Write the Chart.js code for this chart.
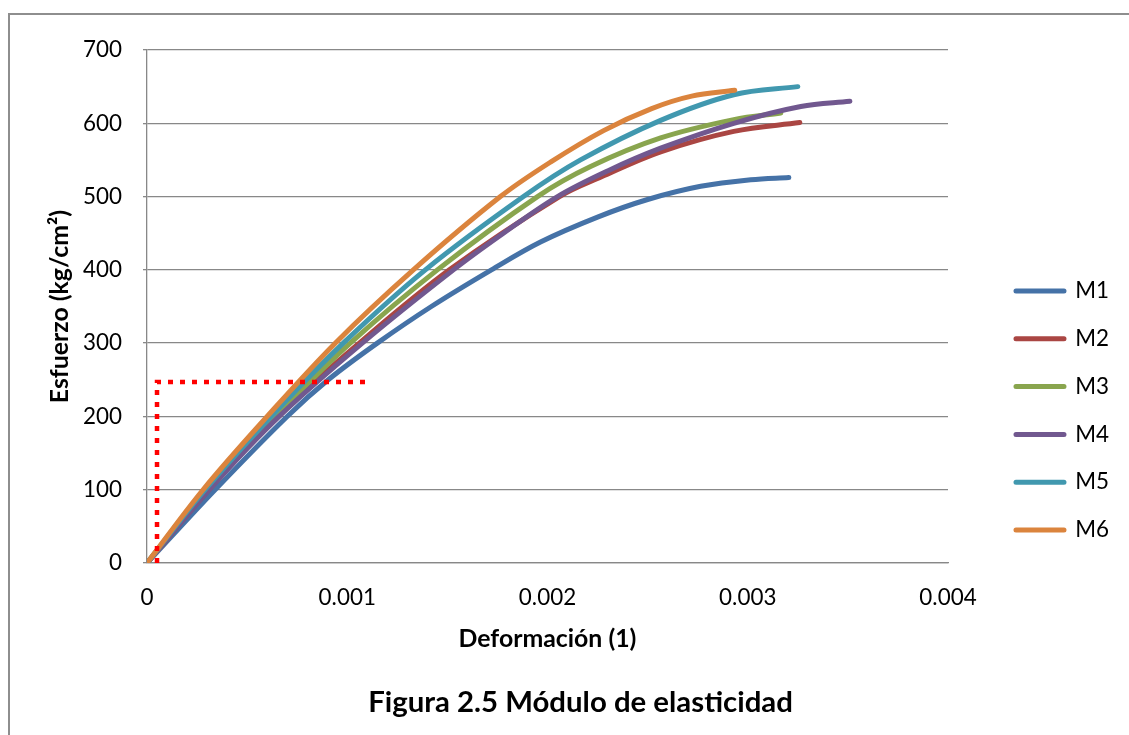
<!DOCTYPE html>
<html>
<head>
<meta charset="utf-8">
<script src="https://cdn.jsdelivr.net/npm/chart.js@4/dist/chart.umd.min.js"></script>
<style>
html,body{margin:0;padding:0;background:#fff;overflow:hidden}
#wrap{position:relative;width:1129px;height:735px;overflow:hidden}
#frame{position:absolute;left:8px;top:13px;width:1200px;height:800px;border-left:2px solid #8e8e8e;border-top:2px solid #8e8e8e}
#c{position:absolute;left:0;top:0}
</style>
</head>
<body>
<div id="wrap"><div id="frame"></div><canvas id="c" width="1129" height="735"></canvas></div>
<script>
// ---------------- data ----------------
const seriesNames = ['M1', 'M2', 'M3', 'M4', 'M5', 'M6'];

const strainM1 = [0, 0.00034, 0.0007, 0.000905, 0.00115, 0.00142, 0.00172, 0.001965, 0.00225, 0.0025, 0.002765, 0.003015, 0.003205];
const stressM1 = [0, 100, 200, 250, 300, 350, 400, 438, 472, 496, 514, 523, 526];

const strainM2 = [0, 0.00031, 0.00065, 0.00106, 0.00151, 0.00206, 0.00227, 0.002565, 0.00293, 0.00326];
const stressM2 = [0, 100, 200, 300, 400, 500, 527, 561, 589, 601];

const strainM3 = [0, 0.0003, 0.00064, 0.001015, 0.00145, 0.00195, 0.002215, 0.002565, 0.00293, 0.003165];
const stressM3 = [0, 100, 200, 300, 400, 500, 541, 580, 605, 614];

const strainM4 = [0, 0.00031, 0.00066, 0.001075, 0.00153, 0.00178, 0.00205, 0.0023, 0.002565, 0.00293, 0.003265, 0.00351];
const stressM4 = [0, 100, 200, 300, 400, 450, 500, 535, 566, 600, 623, 630];

const strainM5 = [0, 0.00029, 0.00062, 0.00098, 0.00139, 0.00188, 0.002165, 0.002565, 0.00293, 0.00325];
const stressM5 = [0, 100, 200, 300, 400, 500, 550, 604, 639, 650];

const strainM6 = [0, 0.00028, 0.0006, 0.00094, 0.00133, 0.001765, 0.002015, 0.00228, 0.00252, 0.00272, 0.002935];
const stressM6 = [0, 100, 200, 300, 400, 500, 547, 590, 620, 637, 645];

// red dotted guide (elastic limit)
const guideStrain = [0.00005, 0.00005, 0.0011];
const guideStress = [0, 247, 247];

const xTickLabels = ['0', '0.001', '0.002', '0.003', '0.004'];
const yTickLabels = ['0', '100', '200', '300', '400', '500', '600', '700'];

const xTitle = 'Deformación (1)';
const yTitle = 'Esfuerzo (kg/cm²)';
const chartTitle = 'Figura 2.5 Módulo de elasticidad';

// ---------------- styles ----------------
const colors = ['#4572A7', '#AA4643', '#89A54E', '#71588F', '#4198AF', '#DB843D'];
const FAMILY = 'Lato';

const canvas = document.getElementById('c');
const ctx = canvas.getContext('2d');
function fitSize(text, weight, target) {
  ctx.font = weight + ' 100px ' + FAMILY;
  const w = ctx.measureText(text).width;
  return w > 0 ? 100 * target / w : 22;
}
const tickSize = fitSize('700', 'normal', 39);
const axisTitleSize = fitSize(xTitle, 'bold', 178);
const titleSize = fitSize(chartTitle, 'bold', 425);

const PAD_LEFT = 42, PAD_RIGHT = 10, PAD_TOP = 50;
const PLOT_LEFT = 147, PLOT_RIGHT = 948, PLOT_BOTTOM = 563;

const strains = [strainM1, strainM2, strainM3, strainM4, strainM5, strainM6];
const stresses = [stressM1, stressM2, stressM3, stressM4, stressM5, stressM6];

const datasets = seriesNames.map((name, i) => ({
  label: name,
  data: strains[i].map((x, k) => ({x: x, y: stresses[i][k]})),
  borderColor: colors[i],
  backgroundColor: colors[i],
  borderWidth: 5,
  borderCapStyle: 'round',
  borderJoinStyle: 'round',
  pointRadius: 0,
  tension: 0.35,
  order: 6 - i,
  yAxisID: 'y'
}));
datasets.push({
  label: '',
  data: guideStrain.map((x, k) => ({x: x, y: guideStress[k]})),
  borderColor: '#FF0000',
  backgroundColor: '#FF0000',
  borderWidth: 4.5,
  borderDash: [5, 7],
  borderCapStyle: 'butt',
  pointRadius: 0,
  tension: 0,
  order: -1,
  yAxisID: 'y'
});

const lineHeightOf = s => s * 1.2;
const legendSpacing = 47.8;
const legendPad = legendSpacing - tickSize;

new Chart(canvas, {
  type: 'line',
  data: {datasets: datasets},
  options: {
    responsive: false,
    animation: false,
    events: [],
    layout: {padding: {left: PAD_LEFT, right: PAD_RIGHT, top: PAD_TOP, bottom: 0}},
    scales: {
      x: {
        type: 'linear',
        min: 0, max: 0.004,
        ticks: {
          stepSize: 0.001,
          color: '#000',
          font: {family: FAMILY, size: tickSize},
          padding: 21,
          maxRotation: 0,
          callback: (v, i) => xTickLabels[i]
        },
        grid: {display: false, drawTicks: false},
        border: {display: true, color: '#888888', width: 1.3},
        title: {
          display: true, text: xTitle, color: '#000',
          font: {family: FAMILY, size: axisTitleSize, weight: 'bold'},
          padding: {top: 0, bottom: 21}
        },
        afterFit: s => {
          const tb = s.chart.titleBlock ? s.chart.titleBlock.height : 60;
          s.height = 735 - tb - PLOT_BOTTOM;
        }
      },
      y: {
        type: 'linear',
        position: 'left',
        min: 0, max: 700,
        ticks: {
          stepSize: 100,
          color: '#000',
          font: {family: FAMILY, size: tickSize},
          padding: 21,
          callback: (v, i) => yTickLabels[i]
        },
        grid: {color: '#888888', lineWidth: 1.3, tickLength: 4, drawTicks: true},
        border: {display: true, color: '#888888', width: 1.3},
        title: {
          display: true, text: yTitle, color: '#000',
          font: {family: FAMILY, size: axisTitleSize, weight: 'bold'},
          padding: {top: 60 - PAD_LEFT - lineHeightOf(axisTitleSize) / 2, bottom: 0}
        },
        afterFit: s => { s.width = PLOT_LEFT - PAD_LEFT; }
      },
      y2: {
        type: 'linear',
        position: 'right',
        min: 0, max: 700,
        ticks: {display: false},
        grid: {display: false, drawTicks: false},
        border: {display: false},
        afterFit: s => {
          const lw = s.chart.legend ? s.chart.legend.width : 130;
          s.width = Math.max(0, 1129 - PAD_RIGHT - lw - PLOT_RIGHT);
        }
      }
    },
    plugins: {
      tooltip: {enabled: false},
      legend: {
        position: 'right',
        align: 'start',
        labels: {
          boxWidth: 48,
          boxHeight: 0,
          padding: legendPad,
          color: '#000',
          font: {family: FAMILY, size: tickSize},
          filter: item => item.text !== '',
          sort: (a, b) => a.datasetIndex - b.datasetIndex
        },
        title: {
          display: true, text: ' ',
          font: {family: FAMILY, size: 10},
          padding: {top: (291 - tickSize / 2 - legendPad) - 12 - PAD_TOP, bottom: 0}
        }
      },
      title: {
        display: true,
        position: 'bottom',
        text: chartTitle,
        color: '#000',
        font: {family: FAMILY, size: titleSize, weight: 'bold'},
        padding: {top: 10, bottom: 735 - 703 - lineHeightOf(titleSize) / 2}
      }
    }
  }
});
</script>
</body>
</html>
